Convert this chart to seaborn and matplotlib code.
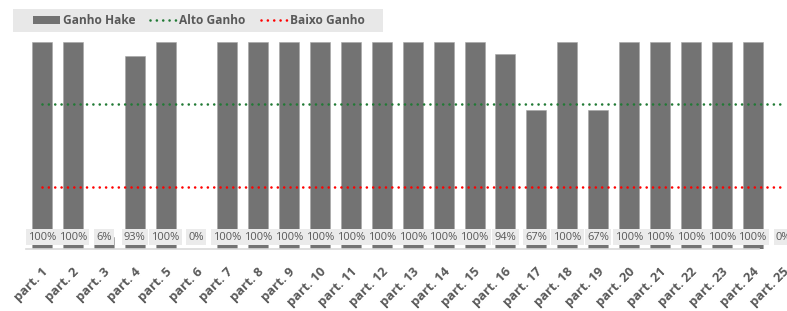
import matplotlib
matplotlib.use("Agg")
import matplotlib.pyplot as plt
import matplotlib.transforms as mtransforms
from matplotlib.lines import Line2D
from matplotlib.patches import Patch, Rectangle
import seaborn as sns
import numpy as np
import pandas as pd

participants = [f"part. {i}" for i in range(1, 26)]
ganho_hake = [1.00, 1.00, 0.06, 0.93, 1.00, 0.00, 1.00, 1.00, 1.00, 1.00,
              1.00, 1.00, 1.00, 1.00, 1.00, 0.94, 0.67, 1.00, 0.67, 1.00,
              1.00, 1.00, 1.00, 1.00, 0.00]
alto_ganho = 0.7
baixo_ganho = 0.3

BAR_COLOR = "#737373"
TEXT_COLOR = "#595959"
GREEN = "#217a35"
RED = "#ff0000"
DOTS = (0, (0.01, 2.4))

sns.set_theme(style="white")
plt.rcParams["font.family"] = ["Open Sans", "DejaVu Sans"]

df = pd.DataFrame({"participante": participants, "ganho": ganho_hake})

fig = plt.figure(figsize=(7.87, 3.11), dpi=100)
W, H = 787, 311
ax = fig.add_axes([26.5 / W, 62 / H, 772.5 / W, 207 / H])

sns.barplot(data=df, x="participante", y="ganho", color=BAR_COLOR,
            width=0.65, saturation=1, edgecolor="#a6a6a6", linewidth=0.4, ax=ax)

n = len(participants)
xs = np.arange(n)
ax.plot(xs, [alto_ganho] * n, color=GREEN, lw=1.9, linestyle=DOTS,
        dash_capstyle="round", zorder=4)
ax.plot(xs, [baixo_ganho] * n, color=RED, lw=1.9, linestyle=DOTS,
        dash_capstyle="round", zorder=4)

# data labels on grey boxes near the base
for i, v in enumerate(ganho_hake):
    ax.text(i, 0.057, f"{v:.0%}", ha="center", va="center", fontsize=8,
            color=TEXT_COLOR, zorder=5,
            bbox=dict(boxstyle="square,pad=0.2", facecolor="#ebebeb",
                      edgecolor="none"))

ax.set_xlim(-0.5, n - 0.5)
ax.set_ylim(0, 1)
ax.set_yticks([])
ax.set_xlabel("")
ax.set_ylabel("")
for s in ["top", "left", "right"]:
    ax.spines[s].set_visible(False)
ax.spines["bottom"].set_color("#d9d9d9")
ax.spines["bottom"].set_linewidth(1.2)
ax.spines["bottom"].set_bounds(-0.5, n - 1.8)

ax.tick_params(axis="x", length=0, pad=15)
ax.set_xticks(xs)
ax.set_xticklabels(participants, rotation=45, ha="right", va="center",
                   rotation_mode="anchor", fontsize=9.3, fontweight="bold",
                   color=TEXT_COLOR)
offset = mtransforms.ScaledTranslation(4 / 100, 0, fig.dpi_scale_trans)
for lab in ax.get_xticklabels():
    lab.set_transform(lab.get_transform() + offset)

# legend band
fig.patches.append(Rectangle((13 / W, 1 - 32 / H), 370 / W, 23 / H,
                             transform=fig.transFigure, facecolor="#e8e8e8",
                             edgecolor="none", zorder=0))
handles = [
    Patch(facecolor=BAR_COLOR, edgecolor="none"),
    Line2D([0], [0], color=GREEN, lw=1.9, linestyle=DOTS, dash_capstyle="round"),
    Line2D([0], [0], color=RED, lw=1.9, linestyle=DOTS, dash_capstyle="round"),
]
leg = fig.legend(handles, ["Ganho Hake", "Alto Ganho", "Baixo Ganho"],
                 loc="center", bbox_to_anchor=(199 / W, 1 - 20.5 / H), ncol=3,
                 frameon=False, handlelength=2.2, handleheight=0.6,
                 handletextpad=0.25, columnspacing=1.25, borderpad=0.3,
                 prop={"size": 8.6, "weight": "bold"})
for t in leg.get_texts():
    t.set_color(TEXT_COLOR)

fig.savefig("out.png", dpi=100)
